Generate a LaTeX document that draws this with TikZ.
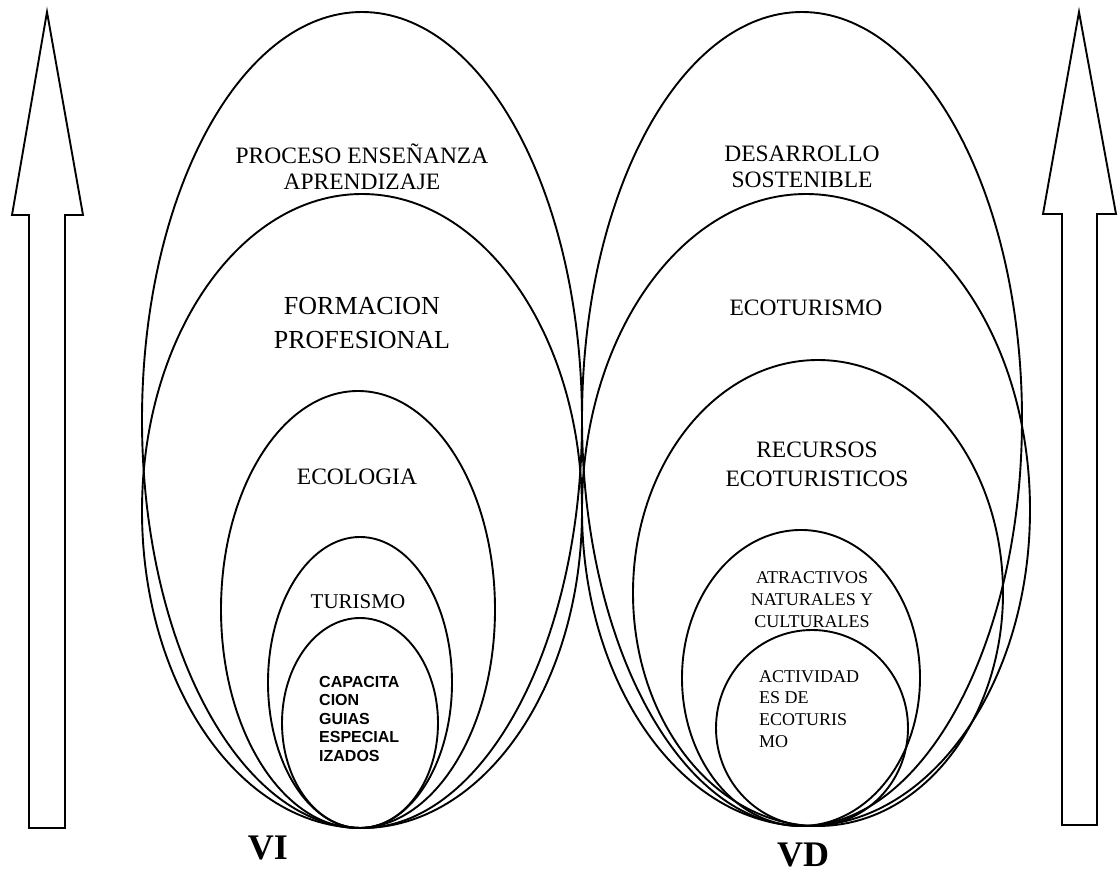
\documentclass[tikz,border=0pt]{standalone}
\usepackage{fontspec}
\setmainfont{Liberation Serif}
\newfontfamily\arialfont{Liberation Sans}
\begin{document}
\begin{tikzpicture}[x=1pt,y=-1pt,
  ring/.style={draw=black,line width=1.9pt},
  bigarrow/.style={draw=black,line width=1.9pt,line join=miter},
  lbl/.style={align=center,inner sep=0pt,font=\fontsize{23.5}{26}\selectfont},
  lblsmall/.style={align=center,inner sep=0pt,font=\fontsize{18}{22}\selectfont},
  varlbl/.style={inner sep=0pt,font=\fontsize{36}{40}\selectfont\bfseries}]
\useasboundingbox (0,0) rectangle (1120,874);
% arrows
\draw[bigarrow] (47,12) -- (83,215) -- (65,215) -- (65,828) -- (29,828) -- (29,215) -- (12,215) -- cycle;
\draw[bigarrow] (1079,12) -- (1116,214) -- (1097,214) -- (1097,825) -- (1062,825) -- (1062,214) -- (1043,214) -- cycle;
% left ellipses
\draw[ring] (362,420) ellipse [x radius=220,y radius=408];
\draw[ring] (362,511) ellipse [x radius=220,y radius=317];
\draw[ring] (358,609.5) ellipse [x radius=137,y radius=218.5];
\draw[ring] (360,682.5) ellipse [x radius=92,y radius=145.5];
\draw[ring] (360,723) ellipse [x radius=78,y radius=105];
% right ellipses
\draw[ring] (802,419) ellipse [x radius=220,y radius=407];
\draw[ring] (806,510) ellipse [x radius=224,y radius=316];
\draw[ring] (818,593) ellipse [x radius=185,y radius=233];
\draw[ring] (801,678) ellipse [x radius=119,y radius=148];
\draw[ring] (812,728) ellipse [x radius=96,y radius=98];
% labels
\node[lbl] (proc) at (362,167) {PROCESO ENSEÑANZA\\APRENDIZAJE};
\node[lbl,font=\fontsize{26}{34}\selectfont] (form) at (362,323) {FORMACION\\PROFESIONAL};
\node[lbl] (ecol) at (357,477) {ECOLOGIA};
\node[lbl,font=\fontsize{21}{25}\selectfont] (tur) at (358,602) {TURISMO};
\node[inner sep=0pt,anchor=north west,align=left,font=\arialfont\bfseries\fontsize{16}{18.5}\selectfont] (cap) at (319,676) {CAPACITA\\CION\\GUIAS\\ESPECIAL\\IZADOS};
\node[lbl] (des) at (802,167) {DESARROLLO\\SOSTENIBLE};
\node[lbl] (ecot) at (806,308) {ECOTURISMO};
\node[lbl,font=\fontsize{23.5}{29}\selectfont] (rec) at (817,464) {RECURSOS\\ECOTURISTICOS};
\node[lblsmall] (atr) at (812,600) {ATRACTIVOS\\NATURALES Y\\CULTURALES};
\node[inner sep=0pt,anchor=north west,align=left,font=\fontsize{18}{21.7}\selectfont] (act) at (759,670) {ACTIVIDAD\\ES DE\\ECOTURIS\\MO};
\node[varlbl] (vi) at (268,848) {VI};
\node[varlbl] (vd) at (803,855) {VD};
\end{tikzpicture}
\end{document}
